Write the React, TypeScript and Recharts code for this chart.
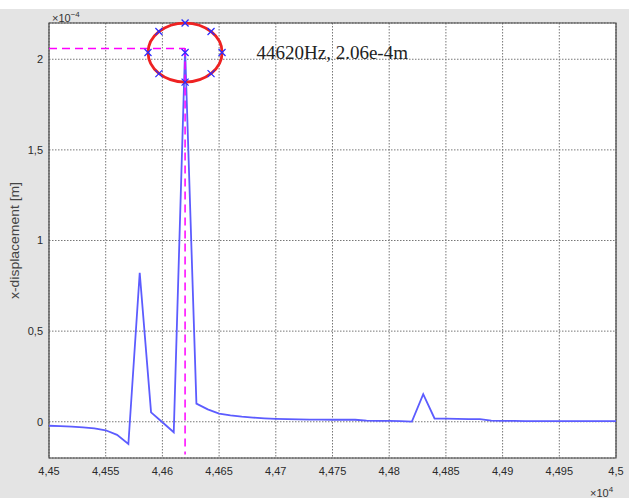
import React from 'react';
import {
  ComposedChart,
  Line,
  XAxis,
  YAxis,
  CartesianGrid,
  ReferenceLine,
  ReferenceDot,
  ReferenceArea,
} from 'recharts';

// frequency [Hz]
const freqs = [
  44500, 44510, 44520, 44530, 44540, 44550, 44560, 44570, 44580, 44590,
  44600, 44610, 44620, 44630, 44640, 44650, 44660, 44670, 44680, 44690,
  44700, 44710, 44720, 44730, 44740, 44750, 44760, 44770, 44780, 44790,
  44800, 44810, 44820, 44830, 44840, 44850, 44860, 44870, 44880, 44890,
  44900, 44910, 44920, 44930, 44940, 44950, 44960, 44970, 44980, 44990,
  45000,
];

// x-displacement [x1e-4 m]
const disp = [
  -0.022, -0.024, -0.027, -0.031, -0.037, -0.047, -0.072, -0.123, 0.822, 0.052,
  -0.003, -0.058, 2.06, 0.1, 0.068, 0.045, 0.035, 0.028, 0.023, 0.019,
  0.016, 0.014, 0.013, 0.012, 0.012, 0.011, 0.011, 0.011, 0.006, 0.005,
  0.005, 0.004, 0.001, 0.152, 0.018, 0.017, 0.016, 0.015, 0.014, 0.006,
  0.005, 0.005, 0.004, 0.004, 0.004, 0.003, 0.003, 0.003, 0.003, 0.003,
  0.003,
];

const xTicks = [44500, 44550, 44600, 44650, 44700, 44750, 44800, 44850, 44900, 44950, 45000];
const xTickLabels = ['4,45', '4,455', '4,46', '4,465', '4,47', '4,475', '4,48', '4,485', '4,49', '4,495', '4,5'];
const yTicks = [0, 0.5, 1, 1.5, 2];
const yTickLabels = ['0', '0,5', '1', '1,5', '2'];

const peakFreq = 44620;
const peakValue = 2.06;
const ellipseCenter = { f: 44620, v: 2.037 };
const ellipseMarks = [
  { f: 44620, v: 2.2 },
  { f: 44620, v: 1.874 },
  { f: 44587.3, v: 2.037 },
  { f: 44652.6, v: 2.037 },
  { f: 44596.9, v: 2.153 },
  { f: 44642.9, v: 2.153 },
  { f: 44596.9, v: 1.921 },
  { f: 44642.9, v: 1.921 },
  { f: 44620, v: 2.037 },
];
const annotationText = '44620Hz, 2.06e-4m';
const annotationPos = { f: 44683, v: 2.0 };

const data = freqs.map((f, i) => ({ f, v: disp[i] }));

const FONT = '"Liberation Sans", Arial, sans-serif';

const Cross = (p: any) => {
  const s = 3.5;
  const { cx, cy } = p;
  return (
    <path
      d={`M${cx - s},${cy - s}L${cx + s},${cy + s}M${cx - s},${cy + s}L${cx + s},${cy - s}`}
      stroke="#2b2bff"
      strokeWidth={1.2}
      fill="none"
    />
  );
};

const EllipseShape = (p: any) => (
  <ellipse cx={p.cx} cy={p.cy} rx={37} ry={29.5} fill="none" stroke="#ee2222" strokeWidth={2.8} />
);

const TextShape = (p: any) => (
  <text
    x={p.cx}
    y={p.cy}
    fontFamily='"Liberation Serif", "Times New Roman", serif'
    fontSize={19}
    fill="#222"
  >
    {annotationText}
  </text>
);

const YLabel = (props: any) => {
  const vb = props.viewBox || { x: 0, y: 23, width: 49, height: 435 };
  const cx = 15;
  const cy = vb.y + vb.height / 2;
  return (
    <text
      x={cx}
      y={cy}
      transform={`rotate(-90, ${cx}, ${cy})`}
      textAnchor="middle"
      dominantBaseline="central"
      fontFamily={FONT}
      fontSize={12}
      fill="#444"
      textLength={117}
      lengthAdjust="spacingAndGlyphs"
    >
      x-displacement [m]
    </text>
  );
};

export default function App() {
  return (
    <div style={{ position: 'absolute', left: 0, top: 0, width: 629, height: 498, background: '#e4e4e4', overflow: 'hidden' }}>
      <div style={{ position: 'absolute', left: 0, top: 0, width: 629, height: 9, background: '#ffffff' }} />
      <ComposedChart
        width={629}
        height={498}
        data={data}
        margin={{ top: 23, right: 13, bottom: 0, left: 0 }}
        style={{ position: 'absolute', left: 0, top: 0 }}
      >
        <CartesianGrid stroke="#777" strokeDasharray="1.5 1.5" fill="#ffffff" />
        <XAxis
          dataKey="f"
          type="number"
          domain={[44500, 45000]}
          ticks={xTicks}
          interval={0}
          allowDataOverflow
          height={40}
          axisLine={false}
          tickLine={false}
          tickSize={4}
          tickMargin={5}
          tick={{ fill: '#2a2a2a', fontSize: 11, fontFamily: FONT }}
          tickFormatter={(v: number) => xTickLabels[xTicks.indexOf(v)] ?? ''}
        />
        <YAxis
          type="number"
          domain={[-0.2, 2.2]}
          ticks={yTicks}
          interval={0}
          allowDataOverflow
          width={49}
          axisLine={false}
          tickLine={false}
          tickSize={4}
          tickMargin={2}
          tick={{ fill: '#2a2a2a', fontSize: 11, fontFamily: FONT }}
          tickFormatter={(v: number) => yTickLabels[yTicks.indexOf(v)] ?? ''}
          label={{ content: YLabel }}
        />
        <ReferenceArea
          x1={44500}
          x2={45000}
          y1={-0.2}
          y2={2.2}
          fill="none"
          fillOpacity={0}
          stroke="#444"
          strokeWidth={1.2}
          ifOverflow="visible"
        />
        <Line
          dataKey="v"
          type="linear"
          stroke="#5c5cff"
          strokeWidth={1.8}
          dot={false}
          isAnimationActive={false}
        />
        <ReferenceLine
          segment={[{ x: 44500, y: peakValue }, { x: peakFreq, y: peakValue }]}
          stroke="#ff00ff"
          strokeWidth={1.5}
          strokeDasharray="8 5"
          ifOverflow="visible"
        />
        <ReferenceLine
          segment={[{ x: peakFreq, y: peakValue }, { x: peakFreq, y: -0.18 }]}
          stroke="#ff00ff"
          strokeWidth={1.5}
          strokeDasharray="8 5"
          ifOverflow="visible"
        />
        <ReferenceDot
          x={ellipseCenter.f}
          y={ellipseCenter.v}
          r={1}
          ifOverflow="visible"
          shape={EllipseShape}
        />
        {ellipseMarks.map((m, i) => (
          <ReferenceDot key={i} x={m.f} y={m.v} r={1} ifOverflow="visible" shape={Cross} />
        ))}
        <ReferenceDot x={annotationPos.f} y={annotationPos.v} r={1} ifOverflow="visible" shape={TextShape} />
      </ComposedChart>
      <svg width={629} height={498} style={{ position: 'absolute', left: 0, top: 0, pointerEvents: 'none' }}>
        <text x={52} y={22} fontFamily={FONT} fontSize={11} fill="#333">
          ×10<tspan dy={-5} fontSize={8}>−4</tspan>
        </text>
        <text x={590} y={497} fontFamily={FONT} fontSize={11} fill="#333">
          ×10<tspan dy={-5} fontSize={8}>4</tspan>
        </text>
      </svg>
    </div>
  );
}
